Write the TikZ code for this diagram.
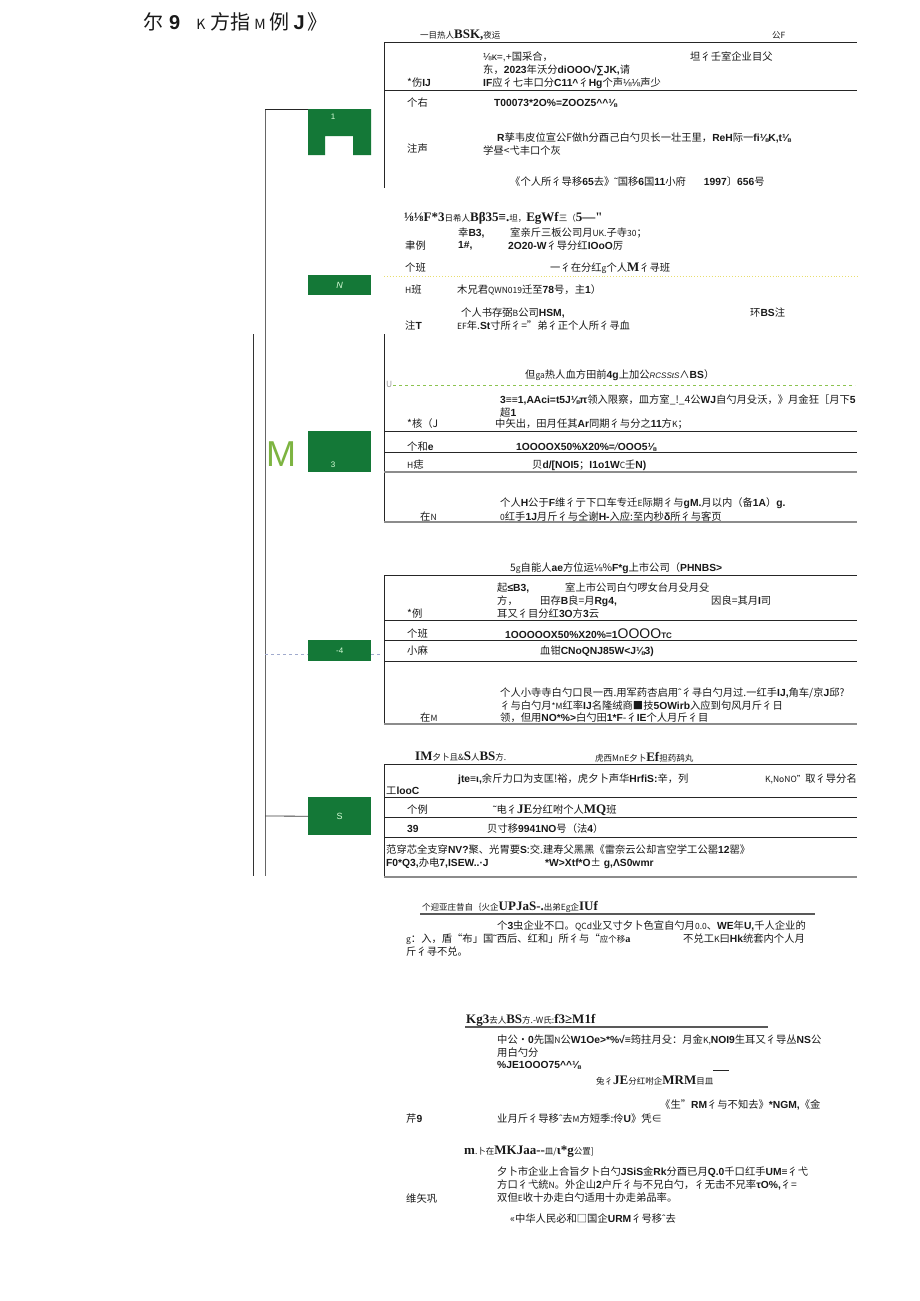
\documentclass[tikz,border=0pt]{standalone}
\usepackage{fontspec}
\setmainfont{Noto Sans CJK SC}
\newfontfamily\latf{Liberation Sans}
\newfontfamily\serf{Liberation Serif}
\newcommand\xb[1]{{\latf\bfseries #1}}
\newcommand\xsb[1]{{\serf\bfseries\fontsize{13}{13}\selectfont #1}}
\newcommand\xsm[1]{{\fontsize{8.5}{9}\selectfont #1}}
\newcommand\xtl{{\latf ˜}}
\newcommand\xct{{\latf ˆ}}
\definecolor{gbox}{RGB}{20,120,55}
\definecolor{lgreen}{RGB}{125,180,65}
\definecolor{dgreen}{RGB}{140,195,80}
\definecolor{ydot}{RGB}{232,222,110}
\definecolor{txt}{RGB}{25,25,25}
\definecolor{bluedash}{RGB}{160,170,205}
\tikzset{
  t/.style={anchor=west,inner sep=0pt,text=txt,font=\fontsize{10.3}{12}\selectfont},
  rulel/.style={draw=black!85,line width=0.9pt},
  greyl/.style={draw=black!45,line width=1.3pt},
  gboxs/.style={fill=gbox,inner sep=0pt,anchor=north west,minimum width=63pt},
  blab/.style={inner sep=0pt,text=white!85!green,font=\fontsize{8}{8}\selectfont\latf},
  trunk/.style={draw=black!60,line width=0.8pt}
}
\begin{document}
\begin{tikzpicture}[x=1pt,y=-1pt]
\useasboundingbox (0,0) rectangle (920,1301);
\fill[white] (0,0) rectangle (920,1301);
% title
\node[t,font=\fontsize{20}{20}\selectfont] (title) at (143,22) {尔\hspace{6pt}\xb{9}\hspace{16pt}{\fontsize{14}{14}\selectfont K}\hspace{5pt}方指\hspace{4pt}{\fontsize{14}{14}\selectfont M}\hspace{4pt}例\hspace{4pt}\xb{J}\hspace{3pt}》};
% trunk
\draw[trunk] (265,109) -- (265,876);
\draw[draw=black!80,line width=0.9pt] (253,334) -- (253,876);
% boxes
\fill[gbox] (308,109) -- (371,109) -- (371,155) -- (353,155) -- (353,136) -- (325,136) -- (325,155) -- (308,155) -- cycle;
\node[inner sep=0pt,anchor=north west,minimum width=63pt,minimum height=46pt] (b1) at (308,109) {};
\node[blab] (l1) at (333,117) {1};
\node[gboxs,minimum height=20pt] (b2) at (308,275) {};
\node[blab,font=\fontsize{9}{9}\selectfont\latf\itshape] (l2) at (b2) {N};
\node[gboxs,minimum height=41pt] (b3) at (308,431) {};
\node[blab] (l3) at (333,465) {3};
\node[gboxs,minimum height=21pt] (b4) at (308,640) {};
\node[blab] (l4) at (b4) {-4};
\node[gboxs,minimum height=38pt] (b5) at (308,797) {};
\node[blab,font=\fontsize{9}{9}\selectfont\latf] (l5) at (b5) {S};
\node[inner sep=0pt,anchor=west,text=lgreen,font=\fontsize{36}{36}\selectfont\latf] (bigm) at (266,454) {M};
% connectors
\coordinate (k1) at (265,109);
\draw[trunk,draw=black!85] (k1) -- (b1.north west);
\coordinate (k4) at (265,654);
\coordinate (k4r) at (383,654);
\draw[bluedash,dashed,line width=0.6pt] (k4) -- (k4 -| b4.west);
\draw[bluedash,dashed,line width=0.6pt] (k4r -| b4.east) -- (k4r);
\coordinate (k5) at (265,816);
\draw[trunk,draw=black!75] (k5) -- (b5.west);

% ===== section 1
\node[t] (a1) at (420,35) {\xsm{一目热人}\xsb{BSK,}\xsm{夜运}};
\node[t] (a2) at (772,35) {\xsm{公F}};
\draw[rulel] (384,42) -- (857,42);
\draw[rulel] (384,90) -- (857,90);
\draw[rulel] (384,42) -- (384,188);
\node[t] (a3) at (483,57) {{\latf ⅛κ=,+}国采合，};
\node[t] (a4) at (690,57) {坦彳壬室企业目父};
\node[t] (a5) at (483,70) {东，\xb{2023}年沃分\xb{diOOO√∑JK,}请};
\node[t] (a6) at (407,83) {*伤\xb{IJ}};
\node[t] (a7) at (483,83) {\xb{IF}应彳七丰口分\xb{C11\textasciicircum}彳\xb{Hg}个声{\latf ⅛⅛}声少};
\node[t] (a8) at (407,103) {个右};
\node[t] (a9) at (494,103) {\xb{T00073*2O\%=ZOOZ5\textasciicircum\textasciicircum⅛}};
\node[t] (a10) at (497,138) {\xb{R}孳韦皮位宣公F做h分酉己白勺贝长一壮王里，\xb{ReH}际一\xb{fi⅛K,t⅛}};
\node[t] (a11) at (407,149) {注声};
\node[t] (a12) at (483,151) {学昼<弋丰口个灰};
\node[t] (a13) at (510,182) {《个人所彳导移\xb{65}去》\xtl 国移\xb{6}国\xb{11}小府\hspace{18pt}\xb{1997}〕\xb{656}号};

% ===== section 2
\node[t] (c1) at (404,218) {\xsb{⅛⅛F*3}\xsm{日希人}\xsb{Bβ35≡.}\xsm{坦，}\xsb{EgWf}\xsm{三（}\xsb{5—"}};
\node[t] (c2) at (458,233) {幸\xb{B3,}};
\node[t] (c3) at (510,233) {室亲斤三板公司月\xsm{UK.}子寺\xsm{30}；};
\node[t] (c4) at (405,246) {聿例};
\node[t] (c5) at (458,246) {\xb{1\#,}};
\node[t] (c6) at (508,246) {\xb{2O20-W}彳导分红\xb{IOoO}厉};
\node[t] (c7) at (405,268) {个班};
\node[t] (c8) at (550,268) {一彳在分红\xsm{g}个人{\serf\bfseries\fontsize{13}{13}\selectfont M}彳寻班};
\draw[ydot,dotted,line width=0.9pt] (384,276) -- (857,276);
\node[t] (c9) at (405,290) {\xsm{H}班};
\node[t] (c10) at (457,290) {木兄君\xsm{QWN019}迁至\xb{78}号，主\xb{1}）};
\node[t] (c11) at (461,313) {个人书存弼\xsm{B}公司\xb{HSM,}};
\node[t] (c12) at (750,313) {环\xb{BS}注};
\node[t] (c13) at (405,326) {注\xb{T}};
\node[t] (c14) at (457,326) {\xsm{EF}年.\xb{St}寸所彳="弟彳正个人所彳寻血};

% ===== section 3
\draw[rulel] (384,334) -- (384,522);
\node[t] (d1) at (525,375) {但\xsm{ga}热人血方田前\xb{4g}上加公{\fontsize{8}{8}\selectfont\latf\itshape RCSStS}∧\xb{BS}）};
\node[t,text=black!40] (d2) at (386,384) {\xsm{U}};
\draw[dgreen,dashed,line width=1pt] (393,385) -- (855,385);
\node[t] (d3) at (500,400) {\xb{3≡≡1,AAci=t5J⅛π}领入限察，皿方室\_!\_4公\xb{WJ}自勺月殳沃，》月金狂［月下\xb{5}};
\node[t] (d4) at (500,413) {超\xb{1}};
\node[t] (d5) at (407,424) {*核（J};
\node[t] (d6) at (495,424) {中矢出，田月任其\xb{Ar}同期彳与分之\xb{11}方\xsm{K}；};
\draw[rulel] (384,431) -- (857,431);
\node[t] (d7) at (407,447) {个和\xb{e}};
\node[t] (d8) at (516,447) {\xb{1OOOOX50\%X20\%=}{\latf\itshape /}\xb{OOO5⅛}};
\draw[rulel] (384,452) -- (857,452);
\node[t] (d9) at (407,465) {\xsm{H}痣};
\node[t] (d10) at (532,465) {贝\xb{d/[NOI5}；\xb{I1o1W}\xsm{C}壬\xb{N)}};
\draw[greyl] (384,472) -- (857,472);
\node[t] (d11) at (500,503) {个人\xb{H}公于\xb{F}维彳亍下口车专迁\xsm{E}际期彳与\xb{gM.}月以内（备\xb{1A}）\xb{g.}};
\node[t] (d12) at (420,517) {在\xsm{N}};
\node[t] (d13) at (500,517) {\xsm{0}红手\xb{1J}月斤彳与仝谢\xb{H-}入应:至内秒\xb{δ}所彳与客页};
\draw[greyl] (384,522) -- (857,522);

% ===== section 4
\node[t] (e1) at (510,568) {5\xsm{g}自能人\xb{ae}方位运{\latf ⅛}\%\xb{F*g}上市公司（\xb{PHNBS>}};
\draw[rulel] (384,575) -- (857,575);
\draw[rulel] (384,575) -- (384,724);
\node[t] (e2) at (497,588) {起\xb{≤B3,}};
\node[t] (e3) at (565,588) {室上市公司白勺啰女台月殳月殳};
\node[t] (e4) at (497,601) {方，};
\node[t] (e5) at (540,601) {田存\xb{B}良=月\xb{Rg4,}};
\node[t] (e6) at (711,601) {因良=其月\xb{I}司};
\node[t] (e7) at (407,614) {*例};
\node[t] (e8) at (497,614) {耳又彳目分红\xb{3O}方\xb{3}云};
\draw[rulel] (384,620) -- (857,620);
\node[t] (e9) at (407,634) {个班};
\node[t] (e10) at (505,634) {\xb{1OOOOOX50\%X20\%=1}{\latf\fontsize{14}{14}\selectfont OOOO}{\latf\bfseries\fontsize{8}{8}\selectfont TC}};
\draw[rulel] (384,640) -- (857,640);
\node[t] (e11) at (407,651) {小麻};
\node[t] (e12) at (540,651) {血钳\xb{CNoQNJ85W<J⅛3)}};
\draw[rulel] (384,661) -- (857,661);
\node[t] (e13) at (500,693) {个人小寺寺白勺口艮一西.用军药杏启用\xct 彳寻白勺月过.一红手\xb{IJ,}角车/京\xb{J}邱?};
\node[t] (e14) at (500,706) {彳与白勺月\xsm{*M}红率\xb{IJ}名隆绒商■技\xb{5OWirb}入应到句风月斤彳日};
\node[t] (e15) at (420,718) {在\xsm{M}};
\node[t] (e16) at (500,718) {领，但用\xb{NO*\%>}白勺田\xb{1*F}-彳\xb{IE}个人月斤彳目};
\draw[greyl] (384,724) -- (857,724);

% ===== section 5
\node[t] (f1) at (415,757) {\xsb{IM}\xsm{夕卜且\&}\xsb{S}\xsm{人}\xsb{BS}\xsm{方.}};
\node[t] (f2) at (595,757) {\xsm{虎西MnE夕卜}\xsb{Ef}\xsm{担药鸹丸}};
\draw[rulel] (384,764) -- (857,764);
\draw[rulel] (384,764) -- (384,878);
\node[t] (f3) at (458,779) {\xb{jte≡ι,}余斤力口为支匡!裕，虎夕卜声华\xb{HrfiS:}辛，列};
\node[t] (f4) at (765,779) {\xsm{K,NoNO"}取彳导分名};
\node[t] (f5) at (386,791) {工\xb{looC}};
\draw[rulel] (384,797) -- (857,797);
\node[t] (f6) at (407,810) {个例};
\node[t] (f7) at (493,810) {\xtl 电彳{\serf\bfseries\fontsize{13}{13}\selectfont JE}分红咐个人{\serf\bfseries\fontsize{13}{13}\selectfont MQ}班};
\draw[rulel] (384,817) -- (857,817);
\node[t] (f8) at (407,829) {\xb{39}};
\node[t] (f9) at (487,829) {贝寸移\xb{9941NO}号（法\xb{4}）};
\draw[rulel] (384,837) -- (857,837);
\node[t] (f10) at (386,850) {范穿芯全支穿\xb{NV?}聚、光胃要\xb{S}:交.建寿父黑黑《雷奈云公却言空学工公罂\xb{12}罂》};
\node[t] (f11) at (386,863) {\xb{F0*Q3,}办电\xb{7,ISEW..·J}};
\node[t] (f12) at (545,863) {\xb{*W>Xtf*O}±\xb{ g,ΛS0wmr}};
\draw[greyl] (384,877) -- (857,877);

% ===== section 6
\node[t] (g1) at (422,907) {\xsm{个迎亚庄昔自｛火企}\xsb{UPJaS-.}\xsm{出弟Eg企}\xsb{IUf}};
\draw[draw=black!65,line width=1.1pt] (420,914) -- (815,914);
\node[t] (g2) at (497,926) {个\xb{3}虫企业不口。\xsm{QCd}业又寸夕卜色宣自勺月\xsm{0.0}、\xb{WE}年\xb{U,}千人企业的};
\node[t] (g3) at (406,939) {\xsm{g}：入，盾“布」国\xtl 西后、红和」所彳与“\xsm{应个移}{\serf\bfseries a}};
\node[t] (g4) at (683,939) {不兑工\xsm{K}曰\xb{Hk}统套内个人月};
\node[t] (g5) at (406,952) {斤彳寻不兑。};

% ===== section 7
\node[t] (h1) at (466,1020) {\xsb{Kg3}\xsm{去人}\xsb{BS}\xsm{方.-W氏:}\xsb{f3≥M1f}};
\draw[draw=black!65,line width=1.1pt] (465,1027) -- (768,1027);
\node[t] (h2) at (497,1040) {中公·\xb{0}先国\xsm{N}公\xb{W1Oe>*\%√≡}筠拄月殳：月金\xsm{K,}\xb{NOI9}生耳又彳导丛\xb{NS}公};
\node[t] (h3) at (497,1053) {用白勺分};
\node[t] (h4) at (497,1065) {\xb{\%JE1OOO75\textasciicircum\textasciicircum⅛}};
\coordinate (s1) at (713,1070);
\coordinate (s2) at (729,1070);
\draw[draw=black!85,line width=0.9pt] (s1) -- (s2);
\node[t] (h5) at (596,1081) {\xsm{兔彳}\xsb{JE}\xsm{分红咐企}\xsb{MRM}\xsm{目皿}};
\node[t] (h6) at (660,1105) {《生"\xb{RM}彳与不知去》\xb{*NGM,}《金};
\node[t] (h7) at (406,1119) {芹\xb{9}};
\node[t] (h8) at (497,1119) {业月斤彳导移\xct 去\xsm{M}方短季:伶\xb{U}》凭∈};
\node[t] (h9) at (464,1152) {\xsb{m}\xsm{.卜在}\xsb{MKJaa--}\xsm{皿/}\xsb{ι*g}\xsm{公置]}};
\node[t] (h10) at (497,1172) {夕卜市企业上合旨夕卜白勺\xb{JSiS}金\xb{Rk}分酉已月\xb{Q.0}千口红手\xb{UM≡}彳弋};
\node[t] (h11) at (497,1185) {方口彳弋統\xsm{N}。外企山\xb{2}户斤彳与不兄白勺，彳无击不兄率\xb{τO\%,}彳=};
\node[t] (h12) at (406,1199) {维矢巩};
\node[t] (h13) at (497,1198) {双但\xsm{E}收十办走白勺适用十办走弟品率。};
\node[t] (h14) at (510,1219) {«中华人民必和□国企\xb{URM}彳号移\xct 去};
\end{tikzpicture}
\end{document}
